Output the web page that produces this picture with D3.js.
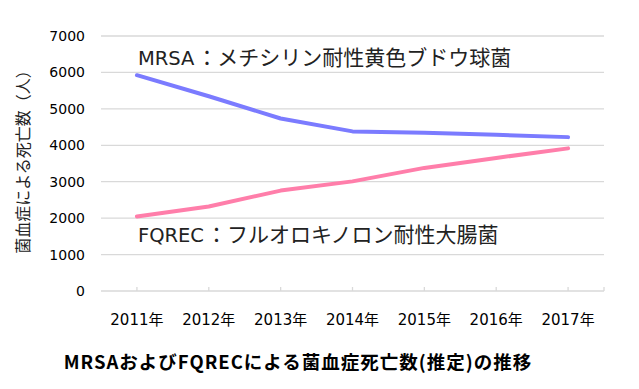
<!DOCTYPE html>
<html>
<head>
<meta charset="utf-8">
<script src="https://cdn.jsdelivr.net/npm/d3@7"></script>
<style>
  body { margin: 0; background: #fff; }
  svg { display: block; }
</style>
</head>
<body>
<svg width="639" height="389"></svg>
<script>
const years = ["2011年", "2012年", "2013年", "2014年", "2015年", "2016年", "2017年"];
const mrsa = [5924, 5346, 4735, 4381, 4347, 4287, 4224];
const fqrec = [2045, 2318, 2756, 3009, 3379, 3653, 3915];
const yTicks = [0, 1000, 2000, 3000, 4000, 5000, 6000, 7000];

const font = "'DejaVu Sans', 'Noto Sans CJK JP', sans-serif";
const margin = {top: 36, right: 35, bottom: 98, left: 101};
const width = 639 - margin.left - margin.right;
const height = 389 - margin.top - margin.bottom;

const svg = d3.select("svg");
const g = svg.append("g")
    .attr("transform", `translate(${margin.left},${margin.top})`);

const x = d3.scaleBand().domain(years).range([0, width]).padding(0);
const y = d3.scaleLinear().domain([0, 7000]).range([height, 0]);
const cx = d => x(d) + x.bandwidth() / 2;

// grid
g.append("g")
    .selectAll("line")
    .data(yTicks)
    .join("line")
    .attr("x1", 0)
    .attr("x2", width)
    .attr("y1", d => y(d))
    .attr("y2", d => y(d))
    .attr("stroke", "#d9d9d9")
    .attr("stroke-width", 1.3);

// y labels
g.append("g")
    .attr("font-family", font)
    .attr("font-size", 14)
    .attr("fill", "#000")
    .attr("text-anchor", "end")
    .selectAll("text")
    .data(yTicks)
    .join("text")
    .attr("x", -16)
    .attr("y", d => y(d))
    .attr("dy", "0.36em")
    .text(d => d);

// x tick marks at category centers + end
const tickPos = years.map(cx).concat([width]);
g.append("g")
    .selectAll("line")
    .data(tickPos)
    .join("line")
    .attr("x1", d => d)
    .attr("x2", d => d)
    .attr("y1", height)
    .attr("y2", height - 4)
    .attr("stroke", "#d9d9d9")
    .attr("stroke-width", 1.3);

g.append("g")
    .attr("font-family", font)
    .attr("font-size", 15)
    .attr("fill", "#000")
    .attr("text-anchor", "middle")
    .selectAll("text")
    .data(years)
    .join("text")
    .attr("x", d => cx(d))
    .attr("y", height + 34)
    .text(d => d);

// lines
const line = d3.line()
    .x((d, i) => cx(years[i]))
    .y(d => y(d));

g.append("path")
    .datum(mrsa)
    .attr("fill", "none")
    .attr("stroke", "#7b7bff")
    .attr("stroke-width", 4)
    .attr("stroke-linejoin", "round")
    .attr("stroke-linecap", "round")
    .attr("d", line);

g.append("path")
    .datum(fqrec)
    .attr("fill", "none")
    .attr("stroke", "#ff7eaa")
    .attr("stroke-width", 4)
    .attr("stroke-linejoin", "round")
    .attr("stroke-linecap", "round")
    .attr("d", line);

// series labels: latin part + wider japanese part
function seriesLabel(yPos, latin, jp) {
    const t = g.append("text")
        .attr("x", cx(years[0]) + 1)
        .attr("y", yPos)
        .attr("font-family", font)
        .attr("font-size", 19.5)
        .attr("fill", "#222");
    t.append("tspan").text(latin);
    t.append("tspan").attr("font-size", 21).attr("dx", 2).text("：" + jp);
}
seriesLabel(29, "MRSA", "メチシリン耐性黄色ブドウ球菌");
seriesLabel(206, "FQREC", "フルオロキノロン耐性大腸菌");

// y axis title
svg.append("text")
    .attr("transform", "translate(29,158) rotate(-90)")
    .attr("text-anchor", "middle")
    .attr("font-family", font)
    .attr("font-size", 16)
    .attr("fill", "#222")
    .text("菌血症による死亡数（人）");

// chart title
svg.append("text")
    .attr("x", 298)
    .attr("y", 369)
    .attr("text-anchor", "middle")
    .attr("font-family", "'Noto Sans CJK JP', sans-serif")
    .attr("font-size", 18.5)
    .attr("letter-spacing", 1)
    .attr("font-weight", "bold")
    .attr("fill", "#000")
    .text("MRSAおよびFQRECによる菌血症死亡数(推定)の推移");
</script>
</body>
</html>
